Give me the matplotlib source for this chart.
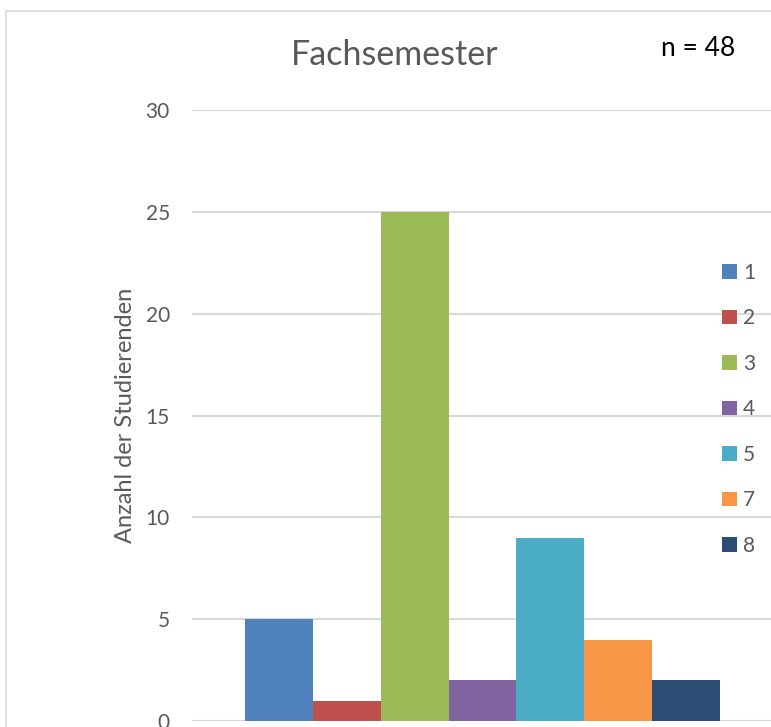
import matplotlib
matplotlib.use("Agg")
import matplotlib.pyplot as plt
from matplotlib.patches import Patch, Rectangle

semester = ["1", "2", "3", "4", "5", "7", "8"]
anzahl = [5, 1, 25, 2, 9, 4, 2]
farben = ["#4F81BD", "#C0504D", "#9BBB59", "#8064A2", "#4BACC6", "#F79646", "#2C4D75"]
y_ticks = [0, 5, 10, 15, 20, 25, 30]

plt.rcParams["font.family"] = ["Lato", "DejaVu Sans"]
grau = "#595959"

W, H = 771, 727
fig = plt.figure(figsize=(W / 100, H / 100), dpi=100)

# chart border (cut off at right and bottom like the screenshot)
fig.patches.append(Rectangle((6 / W, -0.1), 1.2, (H - 11) / H + 0.1,
                             transform=fig.transFigure, fill=False,
                             edgecolor="#D9D9D9", linewidth=1.2))

ax = fig.add_axes([192 / W, (H - 721) / H, (W - 192) / W, (721 - 110) / H])
x = range(len(semester))
ax.bar(x, anzahl, width=1.0, color=farben, zorder=3)
ax.set_xlim(-1.281, 7.252)
ax.set_ylim(0, 30)
ax.set_yticks(y_ticks)
ax.set_xticks([])
ax.grid(axis="y", color="#D9D9D9", linewidth=1.5, zorder=0)
for s in ax.spines.values():
    s.set_visible(False)
ax.tick_params(axis="y", length=0, pad=16, labelsize=15, labelcolor=grau)
ax.set_ylabel("Anzahl der Studierenden", fontsize=17, color=grau)
ax.yaxis.set_label_coords(-0.097, 0.5)

fig.text(395 / W, (H - 55) / H, "Fachsemester", ha="center", va="center",
         fontsize=24.5, color=grau)
fig.text(698 / W, (H - 48) / H, "n = 48", ha="center", va="center",
         fontsize=19, color="black")

handles = [Patch(facecolor=c, label=s) for s, c in zip(semester, farben)]
fig.legend(handles=handles, loc="upper left", bbox_to_anchor=(722 / W, (H - 263) / H),
           frameon=False, fontsize=15, labelcolor=grau, handlelength=0.7,
           handleheight=0.7, handletextpad=0.3, labelspacing=1.22,
           borderaxespad=0, borderpad=0)

fig.savefig("out.png", dpi=100)
